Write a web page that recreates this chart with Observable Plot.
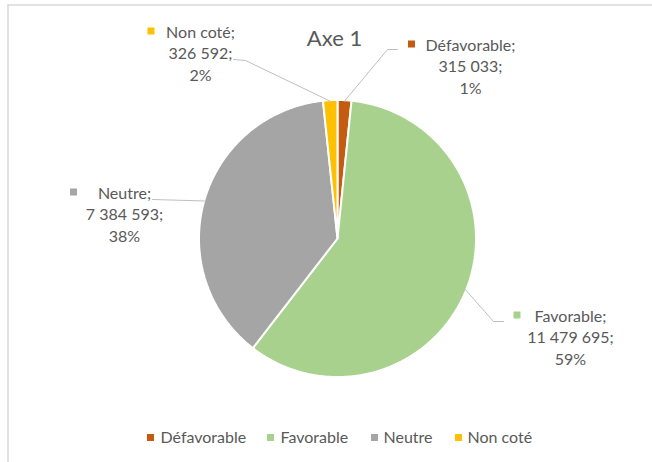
<!DOCTYPE html>
<html><head><meta charset="utf-8">
<script src="https://cdn.jsdelivr.net/npm/d3@7"></script>
<script src="https://cdn.jsdelivr.net/npm/@observablehq/plot@0.6"></script>
<style>html,body{margin:0;padding:0;background:#fff} svg{display:block}</style>
</head><body><div id="chart"></div>
<script>
// ---- data ----
const categories = ["Défavorable", "Favorable", "Neutre", "Non coté"];
const values = [315033, 11479695, 7384593, 326592];
const percentLabels = ["1%", "59%", "38%", "2%"];
const colors = ["#C55A11", "#A9D18E", "#A5A5A5", "#FFC000"];
const title = "Axe 1";

// ---- layout ----
const W = 652, H = 462;
const cx = 337, cy = 238, R = 138.5;
const lineStep = 21.5;
const labelLayout = {
  "Défavorable": {x: 470, y: 45, sq: 411.5, path: [[387, 49], [397, 49]]},
  "Favorable":   {x: 570, y: 316, sq: 517, path: [[493, 321], [503, 321]]},
  "Neutre":      {x: 124, y: 193, sq: 73.5, path: [[152, 199]]},
  "Non coté":    {x: 200, y: 32, sq: 151, path: [[245, 60], [233, 59]]}
};
const legendLayout = {y: 437.5, sq: [150.5, 270.5, 374.5, 458.5], tx: [160, 280, 383, 467]};
const textColor = "#595959";
const fmt = v => d3.format(",")(v).replace(/,/g, " ");

const data = categories.map((name, i) => ({name, value: values[i], pct: percentLabels[i]}));
const arcs = d3.pie().sort(null).value(d => d.value)(data);

// slice polygons
const slicePts = [];
for (const a of arcs) {
  const name = a.data.name;
  slicePts.push({name, x: cx, y: cy});
  const n = Math.max(2, Math.ceil((a.endAngle - a.startAngle) / (Math.PI / 360)));
  for (let k = 0; k <= n; k++) {
    const t = a.startAngle + (a.endAngle - a.startAngle) * k / n;
    slicePts.push({name, x: cx + R * Math.sin(t), y: cy - R * Math.cos(t)});
  }
  slicePts.push({name, x: cx, y: cy});
}

// leader lines
const leaderPts = [];
for (const a of arcs) {
  const name = a.data.name;
  const m = (a.startAngle + a.endAngle) / 2;
  leaderPts.push({name, x: cx + (R - 1) * Math.sin(m), y: cy - (R - 1) * Math.cos(m)});
  for (const [x, y] of labelLayout[name].path) leaderPts.push({name, x, y});
}

// label text rows
const labelRows = [];
const labelSquares = [];
for (const d of data) {
  const L = labelLayout[d.name];
  const lines = [d.name + ";", fmt(d.value) + ";", d.pct];
  lines.forEach((t, j) => labelRows.push({name: d.name, text: t, x: L.x, y: L.y + j * lineStep}));
  labelSquares.push({name: d.name, x: L.sq, y: L.y - 1});
}

const legendItems = categories.map((name, i) => ({name, sx: legendLayout.sq[i], tx: legendLayout.tx[i], y: legendLayout.y}));

const plot = Plot.plot({
  width: W, height: H,
  margin: 0,
  x: {domain: [0, W], range: [0, W], axis: null},
  y: {domain: [0, H], range: [0, H], axis: null},
  color: {domain: categories, range: colors},
  style: {fontFamily: "Lato, 'Liberation Sans', sans-serif", background: "#fff"},
  marks: [
    Plot.ruleY([4.5], {x1: 7.5, x2: W, stroke: "#d9d9d9", strokeWidth: 1.5}),
    Plot.ruleX([7.5], {y1: 4.5, y2: H, stroke: "#d9d9d9", strokeWidth: 1.5}),
    Plot.line(slicePts, {x: "x", y: "y", z: "name", fill: "name", stroke: "#fff", strokeWidth: 2, strokeLinejoin: "miter", curve: "linear"}),
    Plot.line(leaderPts, {x: "x", y: "y", z: "name", stroke: "#bfbfbf", strokeWidth: 1}),
    Plot.text(labelRows, {x: "x", y: "y", text: "text", fill: textColor, fontSize: 16, textAnchor: "middle", lineAnchor: "middle"}),
    Plot.rect(labelSquares, {x1: d => d.x - 3.5, x2: d => d.x + 3.5, y1: d => d.y - 3.5, y2: d => d.y + 3.5, fill: "name"}),
    Plot.text([title], {x: 334, y: 38, text: d => d, fill: textColor, fontSize: 22, textAnchor: "middle", lineAnchor: "middle"}),
    Plot.rect(legendItems, {x1: d => d.sx - 3.5, x2: d => d.sx + 3.5, y1: d => d.y - 3.5, y2: d => d.y + 3.5, fill: "name"}),
    Plot.text(legendItems, {x: "tx", y: "y", text: "name", fill: textColor, fontSize: 16, textAnchor: "start", lineAnchor: "middle"})
  ]
});
document.getElementById("chart").append(plot);
</script>
</body></html>
